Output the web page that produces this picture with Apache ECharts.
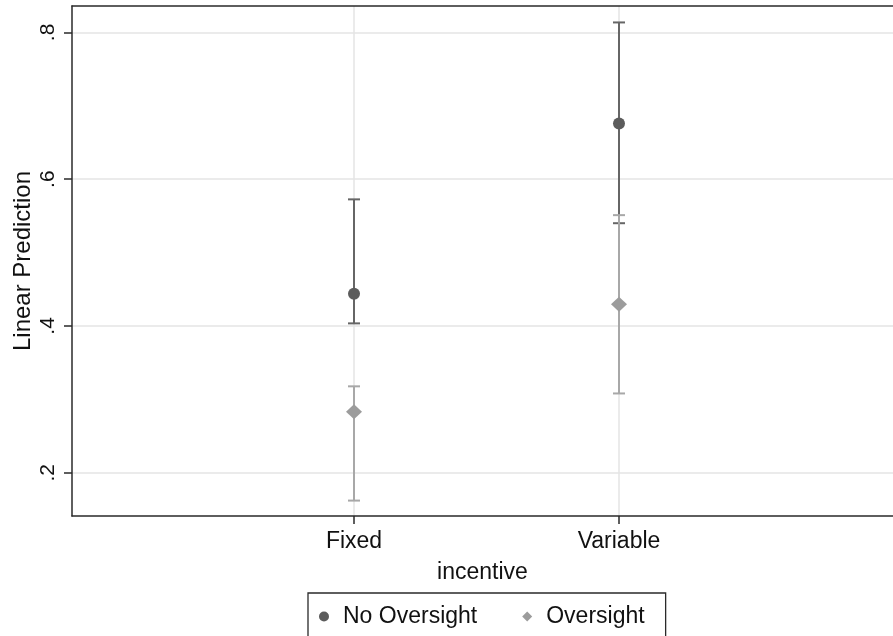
<!DOCTYPE html>
<html>
<head>
<meta charset="utf-8">
<script src="https://cdn.jsdelivr.net/npm/echarts@6/dist/echarts.min.js"></script>
<style>
html,body{margin:0;padding:0;background:#fff;}
#chart{width:893px;height:636px;}
</style>
</head>
<body>
<div id="chart"></div>
<script>
// ---- data ----
const categories = ['Fixed', 'Variable'];
const categoryPositions = [1, 2];
const noOversightMean = [0.444, 0.676];
const noOversightLow = [0.4035, 0.540];
const noOversightHigh = [0.5725, 0.8136];
const oversightMean = [0.2831, 0.4294];
const oversightLow = [0.162, 0.308];
const oversightHigh = [0.3177, 0.551];
const yTicks = [0.2, 0.4, 0.6, 0.8];
const yTickLabels = ['.2', '.4', '.6', '.8'];
const seriesNames = ['No Oversight', 'Oversight'];

const FONT = 'Liberation Sans, Arial, Helvetica, sans-serif';
const DARK = '#5c5c5c', LIGHT = '#9c9c9c';
const DARK_BAR = '#666666', LIGHT_BAR = '#a8a8a8';
const AXIS = '#2a2a2a';

function barData(low, high) {
  return categoryPositions.map((p, i) => [p, low[i], high[i]]);
}
function errorRender(color) {
  return function (params, api) {
    const x = api.value(0);
    const lo = api.coord([x, api.value(1)]);
    const hi = api.coord([x, api.value(2)]);
    const cw = 6;
    const style = { stroke: color, lineWidth: 2 };
    return {
      type: 'group',
      children: [
        { type: 'line', shape: { x1: lo[0], y1: lo[1], x2: hi[0], y2: hi[1] }, style },
        { type: 'line', shape: { x1: hi[0] - cw, y1: hi[1], x2: hi[0] + cw, y2: hi[1] }, style },
        { type: 'line', shape: { x1: lo[0] - cw, y1: lo[1], x2: lo[0] + cw, y2: lo[1] }, style }
      ]
    };
  };
}

const chart = echarts.init(document.getElementById('chart'), null, { renderer: 'canvas' });
chart.setOption({
  animation: false,
  backgroundColor: '#fff',
  textStyle: { fontFamily: FONT },
  grid: { left: 72, top: 6, right: 0, bottom: 120, containLabel: false, outerBoundsMode: 'none' },
  legend: {
    left: 308, top: 593, orient: 'horizontal',
    padding: [12, 21, 20, 11],
    itemGap: 45,
    itemWidth: 10, itemHeight: 10,
    borderColor: AXIS, borderWidth: 1.3,
    formatter: name => '{t|' + name + '}',
    textStyle: {
      fontFamily: FONT, fontSize: 23, color: '#111',
      rich: { t: { fontFamily: FONT, fontSize: 23, color: '#111', padding: [0, 0, 0, 9] } }
    },
    data: [
      { name: seriesNames[0], icon: 'circle', itemStyle: { color: DARK } },
      { name: seriesNames[1], icon: 'diamond', itemStyle: { color: LIGHT } }
    ],
    selectedMode: false
  },
  xAxis: [{
    type: 'value',
    min: -0.0642, max: 3.034,
    name: 'incentive', nameLocation: 'middle', nameGap: 45, nameMoveOverlap: false,
    nameTextStyle: { fontFamily: FONT, fontSize: 23, color: '#111' },
    axisLine: { show: true, onZero: false, lineStyle: { color: AXIS, width: 1.5 } },
    axisTick: { show: true, length: 8, customValues: categoryPositions, lineStyle: { color: AXIS, width: 1.5 } },
    axisLabel: {
      customValues: categoryPositions, margin: 14, fontSize: 23, color: '#111', fontFamily: FONT,
      formatter: v => categories[categoryPositions.indexOf(v)] || ''
    },
    splitLine: { show: true, lineStyle: { color: '#e4e4e4', width: 1.5 } }
  }, {
    type: 'value', position: 'top',
    min: -0.0642, max: 3.034,
    axisLine: { show: true, onZero: false, lineStyle: { color: AXIS, width: 1.5 } },
    axisTick: { show: false }, axisLabel: { show: false }, splitLine: { show: false }
  }],
  yAxis: {
    type: 'value',
    min: 0.141, max: 0.836,
    name: 'Linear Prediction', nameLocation: 'middle', nameGap: 37, nameRotate: 90, nameMoveOverlap: false,
    nameTextStyle: { fontFamily: FONT, fontSize: 24, color: '#111' },
    axisLine: { show: true, onZero: false, lineStyle: { color: AXIS, width: 1.5 } },
    axisTick: { show: true, length: 8, customValues: yTicks, lineStyle: { color: AXIS, width: 1.5 } },
    axisLabel: {
      customValues: yTicks, rotate: 90, margin: 13, fontSize: 21, color: '#111', fontFamily: FONT,
      formatter: v => yTickLabels[yTicks.findIndex(t => Math.abs(t - v) < 1e-9)] || ''
    },
    splitLine: { show: true, lineStyle: { color: '#e4e4e4', width: 1.5 } }
  },
  series: [
    {
      name: seriesNames[0], type: 'custom', z: 3,
      renderItem: errorRender(DARK_BAR),
      data: barData(noOversightLow, noOversightHigh),
      encode: { x: 0, y: [1, 2] }
    },
    {
      name: seriesNames[1], type: 'custom', z: 4,
      renderItem: errorRender(LIGHT_BAR),
      data: barData(oversightLow, oversightHigh),
      encode: { x: 0, y: [1, 2] }
    },
    {
      name: seriesNames[0], type: 'scatter', z: 5,
      symbol: 'circle', symbolSize: 12,
      itemStyle: { color: DARK, opacity: 1 },
      data: categoryPositions.map((p, i) => [p, noOversightMean[i]])
    },
    {
      name: seriesNames[1], type: 'scatter', z: 6,
      symbol: 'diamond', symbolSize: [16, 15],
      itemStyle: { color: LIGHT, opacity: 1 },
      data: categoryPositions.map((p, i) => [p, oversightMean[i]])
    }
  ]
});
</script>
</body>
</html>
